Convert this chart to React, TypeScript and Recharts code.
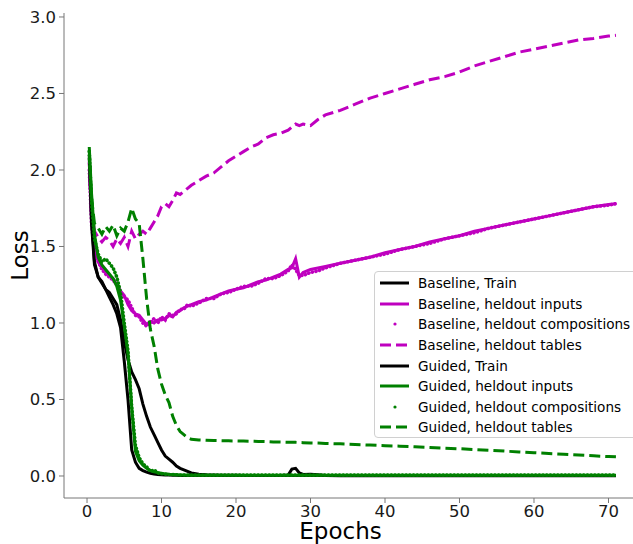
import React from 'react';
import { LineChart, Line, XAxis, YAxis, Label } from 'recharts';

const epochs = [0.3, 0.6, 1, 1.5, 2, 2.5, 3, 3.5, 4, 4.5, 5, 5.5, 6, 6.5, 7, 7.5, 8, 8.5, 9, 9.5, 10, 10.5, 11, 11.5, 12, 12.5, 13, 13.5, 14, 15, 16, 17, 18, 19, 20, 21, 22, 23, 24, 25, 26, 27, 27.5, 28, 28.5, 29, 30, 31, 32, 34, 36, 38, 40, 42, 44, 46, 48, 50, 52, 54, 56, 58, 60, 62, 64, 66, 68, 70, 71];

const baselineTrain = [2.08, 1.7, 1.4, 1.3, 1.26, 1.22, 1.2, 1.16, 1.12, 1.02, 0.88, 0.76, 0.68, 0.63, 0.57, 0.47, 0.39, 0.32, 0.27, 0.22, 0.17, 0.13, 0.11, 0.09, 0.065, 0.05, 0.04, 0.03, 0.02, 0.012, 0.008, 0.006, 0.005, 0.005, 0.005, 0.004, 0.004, 0.004, 0.004, 0.004, 0.004, 0.006, 0.045, 0.05, 0.02, 0.01, 0.012, 0.008, 0.003, 0.002, 0.002, 0.002, 0.002, 0.002, 0.002, 0.002, 0.002, 0.002, 0.002, 0.002, 0.002, 0.002, 0.002, 0.002, 0.002, 0.002, 0.002, 0.002, 0.002];

const baselineInputs = [2.05, 1.7, 1.5, 1.4, 1.36, 1.34, 1.31, 1.29, 1.25, 1.21, 1.18, 1.12, 1.08, 1.06, 1.05, 1.02, 0.99, 1.01, 1.0, 1.02, 1.02, 1.03, 1.05, 1.04, 1.07, 1.08, 1.1, 1.11, 1.12, 1.14, 1.15, 1.17, 1.19, 1.21, 1.22, 1.23, 1.25, 1.27, 1.28, 1.3, 1.32, 1.35, 1.36, 1.42, 1.3, 1.33, 1.35, 1.36, 1.37, 1.39, 1.41, 1.43, 1.46, 1.48, 1.5, 1.53, 1.55, 1.57, 1.6, 1.62, 1.64, 1.66, 1.68, 1.7, 1.72, 1.74, 1.76, 1.775, 1.78];

const baselineCompositions = [2.0, 1.65, 1.47, 1.4, 1.35, 1.32, 1.3, 1.28, 1.25, 1.2, 1.17, 1.15, 1.1, 1.05, 1.04, 1.0, 0.98, 1.0, 1.03, 1.0, 1.04, 1.02, 1.06, 1.05, 1.06, 1.09, 1.09, 1.12, 1.11, 1.13, 1.16, 1.16, 1.19, 1.2, 1.22, 1.24, 1.24, 1.26, 1.29, 1.29, 1.31, 1.34, 1.38, 1.35, 1.31, 1.31, 1.33, 1.34, 1.36, 1.39, 1.41, 1.43, 1.45, 1.48, 1.5, 1.52, 1.55, 1.57, 1.59, 1.62, 1.64, 1.66, 1.68, 1.7, 1.72, 1.74, 1.76, 1.77, 1.78];

const baselineTables = [2.05, 1.75, 1.6, 1.56, 1.53, 1.56, 1.54, 1.5, 1.55, 1.52, 1.56, 1.5, 1.6, 1.55, 1.58, 1.6, 1.58, 1.62, 1.66, 1.7, 1.76, 1.78, 1.76, 1.8, 1.85, 1.84, 1.86, 1.88, 1.9, 1.93, 1.96, 1.98, 2.02, 2.06, 2.09, 2.12, 2.15, 2.17, 2.21, 2.23, 2.24, 2.26, 2.28, 2.3, 2.29, 2.3, 2.29, 2.33, 2.36, 2.39, 2.43, 2.47, 2.5, 2.53, 2.56, 2.59, 2.61, 2.64, 2.68, 2.71, 2.74, 2.77, 2.79, 2.81, 2.83, 2.85, 2.86, 2.875, 2.88];

const guidedTrain = [2.1, 1.65, 1.38, 1.3, 1.27, 1.22, 1.17, 1.12, 1.06, 0.97, 0.75, 0.5, 0.17, 0.09, 0.05, 0.035, 0.025, 0.018, 0.013, 0.01, 0.008, 0.007, 0.006, 0.005, 0.005, 0.004, 0.004, 0.004, 0.003, 0.003, 0.003, 0.003, 0.003, 0.003, 0.003, 0.003, 0.003, 0.003, 0.003, 0.003, 0.003, 0.003, 0.003, 0.003, 0.003, 0.003, 0.003, 0.003, 0.003, 0.003, 0.003, 0.003, 0.003, 0.003, 0.003, 0.003, 0.003, 0.003, 0.003, 0.003, 0.003, 0.003, 0.003, 0.003, 0.003, 0.003, 0.003, 0.003, 0.003];

const guidedInputs = [2.15, 1.85, 1.58, 1.43, 1.38, 1.35, 1.32, 1.29, 1.24, 1.15, 0.98, 0.8, 0.45, 0.16, 0.1, 0.07, 0.05, 0.035, 0.028, 0.022, 0.018, 0.014, 0.011, 0.009, 0.008, 0.007, 0.006, 0.005, 0.005, 0.005, 0.005, 0.005, 0.005, 0.005, 0.005, 0.005, 0.005, 0.005, 0.005, 0.005, 0.005, 0.005, 0.005, 0.005, 0.005, 0.005, 0.005, 0.005, 0.005, 0.005, 0.005, 0.005, 0.005, 0.005, 0.005, 0.005, 0.005, 0.005, 0.005, 0.005, 0.005, 0.005, 0.005, 0.005, 0.005, 0.005, 0.005, 0.005, 0.005];

const guidedCompositions = [2.12, 1.8, 1.55, 1.45, 1.4, 1.42, 1.39, 1.36, 1.3, 1.2, 1.0, 0.82, 0.45, 0.2, 0.12, 0.08, 0.06, 0.03, 0.04, 0.02, 0.015, 0.012, 0.01, 0.009, 0.008, 0.007, 0.007, 0.006, 0.006, 0.006, 0.006, 0.006, 0.006, 0.006, 0.006, 0.006, 0.006, 0.006, 0.006, 0.006, 0.006, 0.006, 0.006, 0.006, 0.006, 0.006, 0.006, 0.006, 0.006, 0.006, 0.006, 0.006, 0.006, 0.006, 0.006, 0.006, 0.006, 0.006, 0.006, 0.006, 0.006, 0.006, 0.006, 0.006, 0.006, 0.006, 0.006, 0.006, 0.006];

const guidedTables = [2.13, 1.82, 1.65, 1.62, 1.58, 1.63, 1.6, 1.64, 1.57, 1.62, 1.6, 1.66, 1.75, 1.68, 1.65, 1.42, 1.16, 0.96, 0.85, 0.7, 0.6, 0.53, 0.48, 0.39, 0.33, 0.29, 0.27, 0.25, 0.24, 0.235, 0.233, 0.232, 0.231, 0.23, 0.229, 0.228, 0.227, 0.226, 0.225, 0.223, 0.222, 0.221, 0.22, 0.22, 0.219, 0.218, 0.216, 0.215, 0.213, 0.21, 0.206, 0.202, 0.198, 0.195, 0.191, 0.187, 0.182, 0.178, 0.173, 0.168, 0.163, 0.157, 0.152, 0.147, 0.142, 0.137, 0.132, 0.127, 0.125];

const xTicks = [0, 10, 20, 30, 40, 50, 60, 70];
const yTicks = [0, 0.5, 1, 1.5, 2, 2.5, 3];

const MAGENTA = '#bf00bf';
const GREEN = '#008000';
const BLACK = '#000000';

type Kind = 'solid' | 'dots' | 'dashed';
const series: { key: string; name: string; color: string; kind: Kind; values: number[] }[] = [
  { key: 'bTrain', name: 'Baseline, Train', color: BLACK, kind: 'solid', values: baselineTrain },
  { key: 'bInputs', name: 'Baseline, heldout inputs', color: MAGENTA, kind: 'solid', values: baselineInputs },
  { key: 'bComp', name: 'Baseline, heldout compositions', color: MAGENTA, kind: 'dots', values: baselineCompositions },
  { key: 'bTables', name: 'Baseline, heldout tables', color: MAGENTA, kind: 'dashed', values: baselineTables },
  { key: 'gTrain', name: 'Guided, Train', color: BLACK, kind: 'solid', values: guidedTrain },
  { key: 'gInputs', name: 'Guided, heldout inputs', color: GREEN, kind: 'solid', values: guidedInputs },
  { key: 'gComp', name: 'Guided, heldout compositions', color: GREEN, kind: 'dots', values: guidedCompositions },
  { key: 'gTables', name: 'Guided, heldout tables', color: GREEN, kind: 'dashed', values: guidedTables },
];

const data = epochs.map((e, i) => {
  const row: Record<string, number> = { epoch: e };
  series.forEach((s) => {
    row[s.key] = s.values[i];
  });
  return row;
});

const FONT = 'DejaVu Sans, sans-serif';
const DASH = '11 5';
const DOTS = '0.1 3.6';

const LegendBox = () => (
  <div
    style={{
      position: 'absolute',
      left: 374,
      top: 271,
      border: '1px solid #d0d0d0',
      borderRadius: 4,
      background: 'rgba(255,255,255,0.85)',
      width: 280,
      height: 167,
      boxSizing: 'border-box',
      paddingTop: 1,
      fontFamily: FONT,
      fontSize: 13.6,
      color: '#000',
    }}
  >
    {series.map((s) => (
      <div key={s.key} style={{ display: 'flex', alignItems: 'center', height: 20.6 }}>
        <svg width={40} height={12} style={{ marginLeft: 2, flex: 'none' }}>
          {s.kind === 'dots' ? (
            <circle cx={18} cy={6} r={1.6} fill={s.color} />
          ) : (
            <line
              x1={3}
              y1={6}
              x2={32}
              y2={6}
              stroke={s.color}
              strokeWidth={3}
              strokeDasharray={s.kind === 'dashed' ? DASH : undefined}
            />
          )}
        </svg>
        <span style={{ marginLeft: 1, whiteSpace: 'nowrap' }}>{s.name}</span>
      </div>
    ))}
  </div>
);

export default function App() {
  return (
    <div style={{ position: 'absolute', left: 0, top: 0, width: 633, height: 544, overflow: 'hidden', background: '#fff' }}>
      <LineChart width={633} height={544} data={data} margin={{ top: 13, right: 0, bottom: 0, left: 0 }}>
        <XAxis
          dataKey="epoch"
          type="number"
          domain={[-3.09, 73.29]}
          ticks={xTicks}
          allowDataOverflow
          height={46}
          stroke="#777"
          tickSize={5}
          tickMargin={2}
          tick={{ fill: '#1a1a1a', fontSize: 16.5, fontFamily: FONT }}
        >
          <Label value="Epochs" position="center" dy={10} dx={-8} fill="#000" fontSize={23} fontFamily={FONT} />
        </XAxis>
        <YAxis
          type="number"
          domain={[-0.1438, 3.026]}
          ticks={yTicks}
          allowDataOverflow
          width={64}
          stroke="#777"
          tickSize={5}
          tickMargin={3}
          tickFormatter={(v: number) => v.toFixed(1)}
          tick={{ fill: '#1a1a1a', fontSize: 16.5, fontFamily: FONT }}
        >
          <Label value="Loss" position="center" angle={-90} dx={-12} fill="#000" fontSize={23} fontFamily={FONT} />
        </YAxis>
        {series.map((s) => (
          <Line
            key={s.key}
            dataKey={s.key}
            name={s.name}
            type="linear"
            stroke={s.color}
            strokeWidth={s.kind === 'dots' ? 3.6 : 3}
            strokeDasharray={s.kind === 'dashed' ? DASH : s.kind === 'dots' ? DOTS : undefined}
            strokeLinecap={s.kind === 'dots' ? 'round' : 'butt'}
            dot={false}
            activeDot={false}
            isAnimationActive={false}
          />
        ))}
      </LineChart>
      <LegendBox />
    </div>
  );
}
